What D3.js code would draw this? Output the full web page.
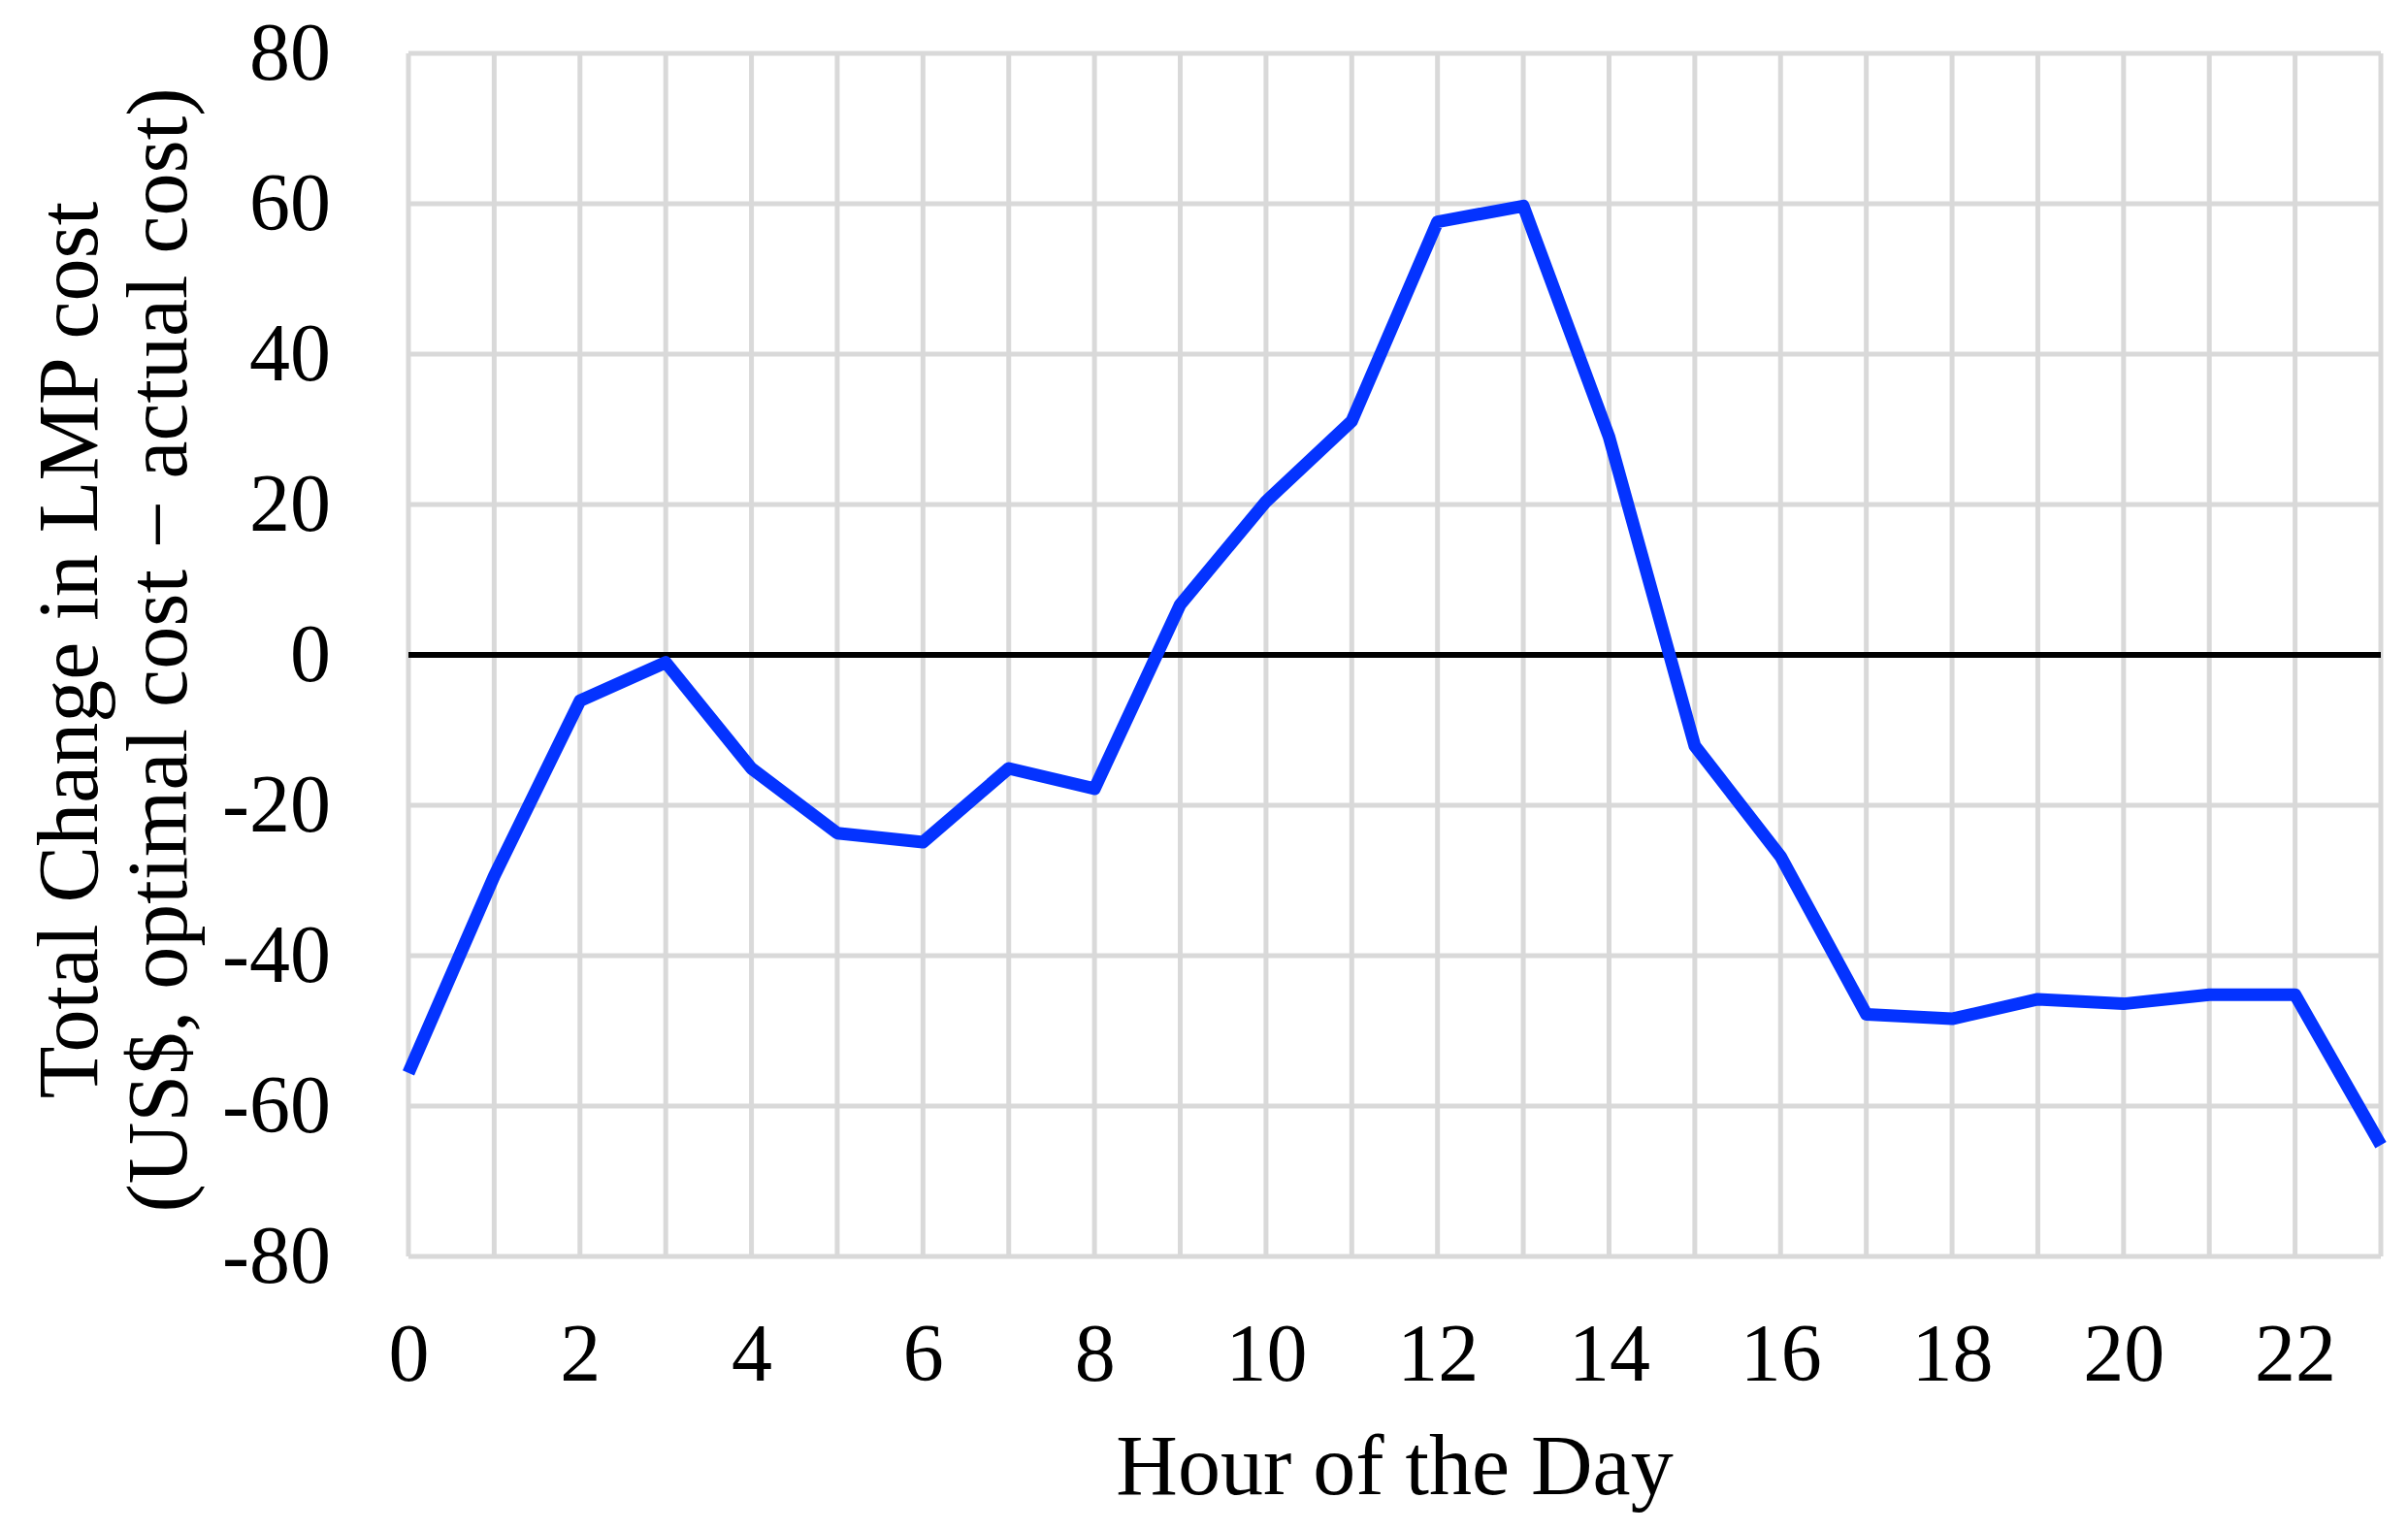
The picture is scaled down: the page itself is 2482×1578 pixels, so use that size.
<!DOCTYPE html>
<html>
<head>
<meta charset="utf-8">
<script src="https://cdn.jsdelivr.net/npm/d3@7"></script>
<style>
  body { margin: 0; background: #fff; }
  text { font-family: "Liberation Serif", "Times New Roman", serif; fill: #000; }
</style>
</head>
<body>
<div id="chart"></div>
<script>
// hours of the day and total change in LMP cost (US$)
var hours = d3.range(0, 24);
var lmpChange = [-55.6, -29.4, -6.1, -1.0, -15.1, -23.7, -24.9, -15.1, -17.8, 6.7,
                 20.4, 31.1, 57.6, 59.7, 29.0, -12.1, -26.8, -47.8, -48.4, -45.8,
                 -46.4, -45.2, -45.2, -65.2];
var yTicks = [-80, -60, -40, -20, 0, 20, 40, 60, 80];
var xTicks = [0, 2, 4, 6, 8, 10, 12, 14, 16, 18, 20, 22];

var width = 2482, height = 1578;
var margin = {top: 55, right: 28, bottom: 283, left: 421};
var innerW = width - margin.left - margin.right,
    innerH = height - margin.top - margin.bottom;

var svg = d3.select("#chart").append("svg")
    .attr("width", width)
    .attr("height", height);

var g = svg.append("g")
    .attr("transform", "translate(" + margin.left + "," + margin.top + ")");

var x = d3.scaleLinear().domain([0, 23]).range([0, innerW]);
var y = d3.scaleLinear().domain([-80, 80]).range([innerH, 0]);

// vertical grid, one per hour
g.append("g").selectAll("line")
    .data(hours)
    .enter().append("line")
    .attr("x1", function(d) { return x(d); })
    .attr("x2", function(d) { return x(d); })
    .attr("y1", 0)
    .attr("y2", innerH)
    .attr("stroke", "#d9d9d9")
    .attr("stroke-width", 5);

// horizontal grid
g.append("g").selectAll("line")
    .data(yTicks)
    .enter().append("line")
    .attr("x1", 0)
    .attr("x2", innerW)
    .attr("y1", function(d) { return y(d); })
    .attr("y2", function(d) { return y(d); })
    .attr("stroke", "#d9d9d9")
    .attr("stroke-width", 5);

// zero line
g.append("line")
    .attr("x1", 0).attr("x2", innerW)
    .attr("y1", y(0)).attr("y2", y(0))
    .attr("stroke", "#000")
    .attr("stroke-width", 6);

// y axis labels (plain hyphen for negatives, like the original)
var yAxis = d3.axisLeft(y).tickValues(yTicks).tickSize(0).tickPadding(80)
    .tickFormat(function(d) { return String(d); });
var yg = g.append("g").call(yAxis);
yg.select(".domain").remove();
yg.selectAll("text")
    .style("font-size", "84px")
    .style("font-family", "Liberation Serif, Times New Roman, serif");

// x axis labels
var xAxis = d3.axisBottom(x).tickValues(xTicks).tickSize(0).tickPadding(68);
var xg = g.append("g")
    .attr("transform", "translate(0," + innerH + ")")
    .call(xAxis);
xg.select(".domain").remove();
xg.selectAll("text")
    .style("font-size", "84px")
    .style("font-family", "Liberation Serif, Times New Roman, serif");

// the series
var line = d3.line()
    .x(function(d, i) { return x(hours[i]); })
    .y(function(d) { return y(d); });

g.append("path")
    .datum(lmpChange)
    .attr("d", line)
    .attr("fill", "none")
    .attr("stroke", "#0433ff")
    .attr("stroke-width", 13)
    .attr("stroke-linejoin", "round");

// axis titles
svg.append("text")
    .attr("x", margin.left + innerW / 2)
    .attr("y", 1540)
    .attr("text-anchor", "middle")
    .style("font-size", "88px")
    .text("Hour of the Day");

var yTitle = svg.append("text")
    .attr("transform", "translate(0," + (margin.top + innerH / 2 - 5) + ") rotate(-90)")
    .attr("text-anchor", "middle")
    .style("font-size", "88px");
yTitle.append("tspan").attr("x", 0).attr("y", 100).text("Total Change in LMP cost");
yTitle.append("tspan").attr("x", 0).attr("y", 192).text("(US$, optimal cost \u2212 actual cost)");
</script>
</body>
</html>
